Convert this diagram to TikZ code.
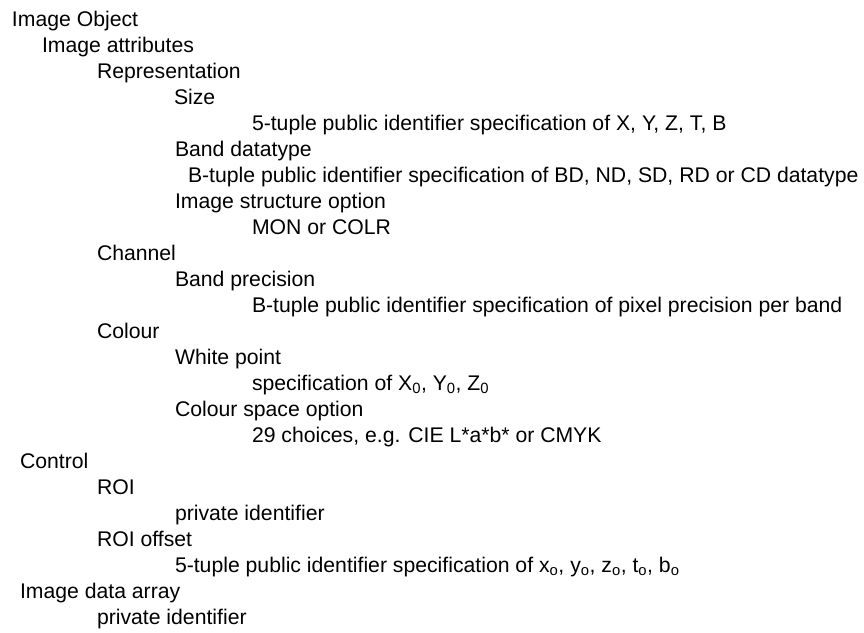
\documentclass[tikz,border=0pt]{standalone}
\usepackage{fontspec}
\setmainfont{Liberation Sans}
\begin{document}
\begin{tikzpicture}[x=1pt,y=-1pt,
  line/.style={anchor=base west,inner sep=0pt,outer sep=0pt,font=\fontsize{21.2pt}{24pt}\selectfont}]
\useasboundingbox (0,0) rectangle (864,632);
\node[line] (n0)  at (12,26)  {Image Object};
\node[line] (n1)  at (42,52)  {Image attributes};
\node[line] (n2)  at (97,78)  {Representation};
\node[line] (n3)  at (174,104) {Size};
\node[line] (n4)  at (252,130) {5-tuple public identifier specification of X, Y, Z, T, B};
\node[line] (n5)  at (175,156) {Band datatype};
\node[line] (n6)  at (188,182) {B-tuple public identifier specification of BD, ND, SD, RD or CD datatype};
\node[line] (n7)  at (175,208) {Image structure option};
\node[line] (n8)  at (252,234) {MON or COLR};
\node[line] (n9)  at (97,260)  {Channel};
\node[line] (n10) at (175,286) {Band precision};
\node[line] (n11) at (252,312) {B-tuple public identifier specification of pixel precision per band};
\node[line] (n12) at (97,338)  {Colour};
\node[line] (n13) at (175,364) {White point};
\node[line] (n14) at (252,390) {specification of X\textsubscript{0}, Y\textsubscript{0}, Z\textsubscript{0}};
\node[line] (n15) at (175,416) {Colour space option};
\node[line] (n16) at (252,442) {29 choices, e.g. CIE L*a*b* or CMYK};
\node[line] (n17) at (20,468)  {Control};
\node[line] (n18) at (97,494)  {ROI};
\node[line] (n19) at (175,520) {private identifier};
\node[line] (n20) at (97,546)  {ROI offset};
\node[line] (n21) at (175,572) {5-tuple public identifier specification of x\textsubscript{o}, y\textsubscript{o}, z\textsubscript{o}, t\textsubscript{o}, b\textsubscript{o}};
\node[line] (n22) at (20,598)  {Image data array};
\node[line] (n23) at (97,624)  {private identifier};
\end{tikzpicture}
\end{document}
